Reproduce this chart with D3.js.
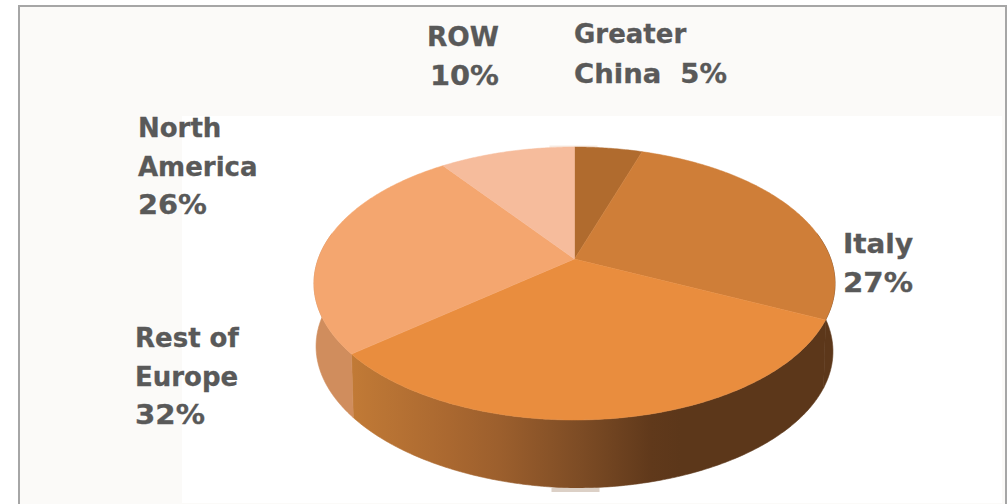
<!DOCTYPE html>
<html>
<head>
<meta charset="utf-8">
<script src="https://cdn.jsdelivr.net/npm/d3@7/dist/d3.min.js"></script>
<style>
  html, body { margin: 0; padding: 0; background: #fff; }
  svg { display: block; }
  text { font-family: "DejaVu Sans", Verdana, sans-serif; font-weight: 700; font-size: 26px; fill: #595959; stroke: #595959; stroke-width: 0.3px; }
</style>
</head>
<body>
<svg id="chart" width="1007" height="504"></svg>
<script>
// Regional revenue split, clockwise from twelve o'clock
const regions = ["Greater China", "Italy", "Rest of Europe", "North America", "ROW"];
const shares = [5, 27, 32, 26, 10];
const topColors = ["#b06b2e", "#cf7e38", "#e98d3e", "#f4a66f", "#f6bc9c"];
const labelLines = [
  ["Greater", "China  5%"],
  ["Italy", "27%"],
  ["Rest of", "Europe", "32%"],
  ["North", "America", "26%"],
  ["ROW", "10%"]
];

const svg = d3.select("#chart");

// Perspective view of a disc: the apex sits above the centre of the visible ellipse
const apex = { x: 574.5, y: 259 };
const spreadX = 256.3, spreadY = 132.1, tilt = 0.1795, thickness = 68;
function project(theta) {
  const X = Math.sin(theta), Y = -Math.cos(theta);
  const w = 1 - tilt * Y;
  return [apex.x + spreadX * X / w, apex.y + spreadY * Y / w];
}

const slices = d3.pie().sort(null).value(d => d)(shares);

function rimPoints(a0, a1) {
  const n = Math.max(2, Math.ceil((a1 - a0) / 0.01));
  return d3.range(n + 1).map(i => project(a0 + (a1 - a0) * i / n));
}
const line = d3.line();

// Panel and its frame
svg.append("rect").attr("x", 19).attr("y", 5).attr("width", 987).attr("height", 499).attr("fill", "#fbfaf8");
svg.append("rect").attr("x", 182).attr("y", 116).attr("width", 820).attr("height", 387).attr("fill", "#ffffff");
svg.append("path").attr("d", "M19,504V6H1006V504").attr("fill", "none").attr("stroke", "#a6a6a6").attr("stroke-width", 2);

// Side wall shading runs left to right across the front of the disc
const defs = svg.append("defs");
const wall = defs.append("linearGradient").attr("id", "wall")
  .attr("gradientUnits", "userSpaceOnUse").attr("x1", 352).attr("x2", 835).attr("y1", 0).attr("y2", 0);
[[0, "#c17a36"], [0.2, "#aa6830"], [0.306, "#9c5f2d"], [0.472, "#7d4c25"], [0.62, "#60391b"], [0.68, "#5c371a"], [1, "#5c371a"]]
  .forEach(([o, c]) => wall.append("stop").attr("offset", o).attr("stop-color", c));

// Outer wall: rim pushed down by the disc thickness, a little less towards the left
function wallPath(a0, a1) {
  const upper = rimPoints(a0, a1);
  const lower = upper.map(([x, y]) => {
    const dx = x - apex.x;
    return [apex.x + dx * 0.992, y + thickness + Math.min(0, dx) * 0.02];
  }).reverse();
  return line(upper.concat(lower)) + "Z";
}
const wallFill = (d, i) => i === 3 ? "#d08d5d" : "url(#wall)";
svg.selectAll("path.wall").data(slices).join("path")
  .attr("class", "wall")
  .attr("d", d => {
    const a0 = Math.max(d.startAngle, Math.PI / 2 - 0.2);
    const a1 = Math.min(d.endAngle, 1.5 * Math.PI + 0.2);
    return a1 > a0 ? wallPath(a0, a1) : null;
  })
  .attr("fill", wallFill)
  .attr("stroke", wallFill)
  .attr("stroke-width", 0.6);

// Thin pale seams where the disc meets the background at its top and bottom
const seam = [
  { x: apex.x - 23, y: apex.y + spreadY / (1 - tilt) + thickness, color: "#dcd0c6", h: 4 },
  { x: apex.x - 25, y: apex.y - spreadY / (1 + tilt) - 1.5, color: "#f7ece4", h: 1.5 }
];
svg.selectAll("rect.seam").data(seam).join("rect")
  .attr("class", "seam")
  .attr("x", d => d.x).attr("y", d => d.y)
  .attr("width", 48).attr("height", d => d.h)
  .attr("fill", d => d.color);

// Top face of each slice
svg.selectAll("path.slice").data(slices).join("path")
  .attr("class", "slice")
  .attr("d", d => line([[apex.x, apex.y], ...rimPoints(d.startAngle, d.endAngle)]) + "Z")
  .attr("fill", (d, i) => topColors[i])
  .attr("stroke", (d, i) => topColors[i])
  .attr("stroke-width", 0.5);

// Labels: one entry per line with its left edge, baseline and set width (0 keeps natural width)
const labelX = [[574, 574], [843, 843], [135, 135, 135], [138, 138, 138], [427, 430]];
const labelY = [[43, 83], [253, 292], [347, 386, 424], [137, 176, 214], [46, 85]];
const labelWidth = [[0, 153], [70, 70], [0, 0, 70], [0, 0, 69], [72, 69]];

const groups = svg.selectAll("g.label").data(regions).join("g").attr("class", "label");
groups.each(function (name, i) {
  d3.select(this).selectAll("text").data(labelLines[i]).join("text")
    .attr("x", (t, j) => labelX[i][j])
    .attr("y", (t, j) => labelY[i][j])
    .attr("textLength", (t, j) => labelWidth[i][j] || null)
    .attr("lengthAdjust", "spacingAndGlyphs")
    .style("white-space", "pre")
    .text(t => t);
});
</script>
</body>
</html>
